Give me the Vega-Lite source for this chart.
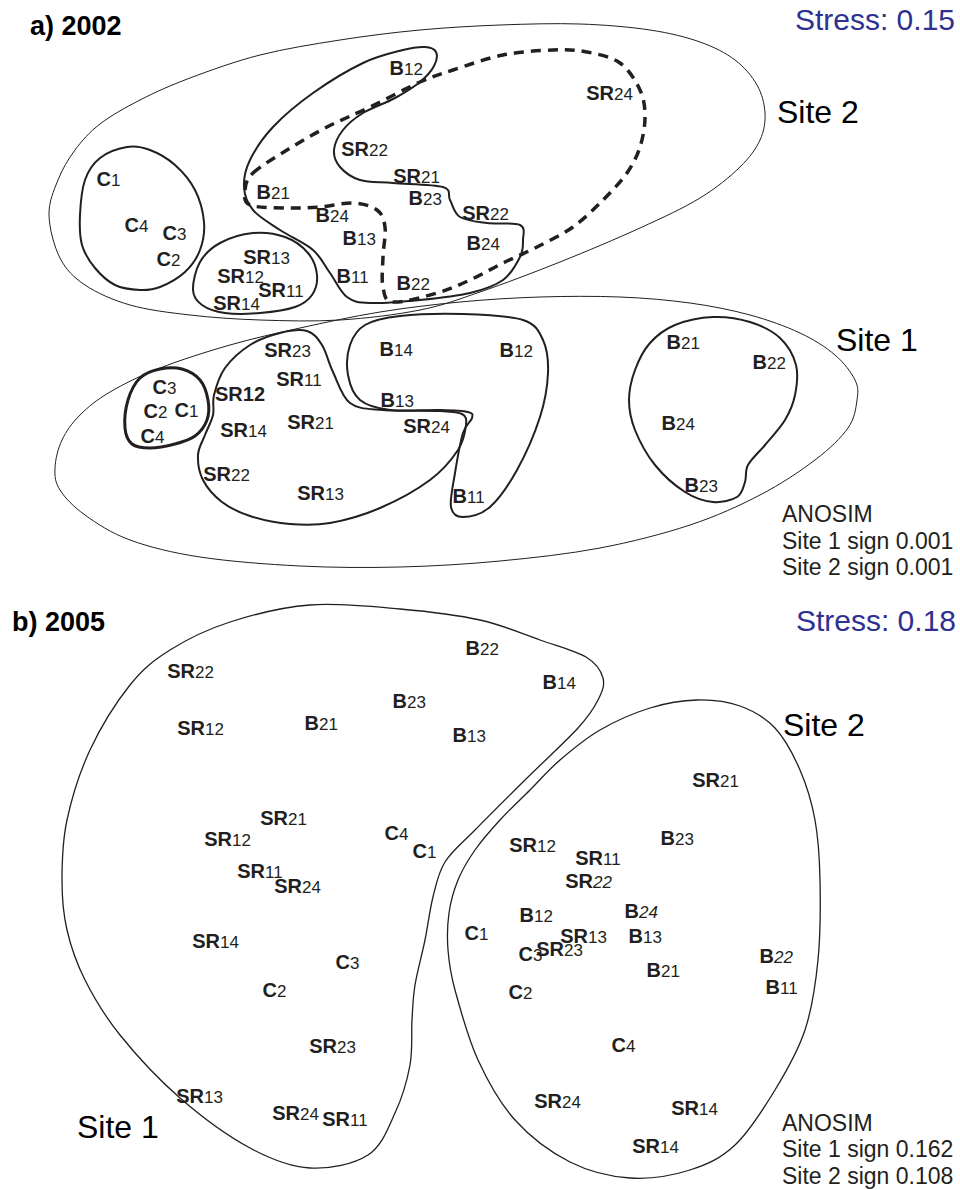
{
"$schema": "https://vega.github.io/schema/vega-lite/v6.json",
"width": 960, "height": 1190,
"autosize": {"type": "fit", "contains": "padding"},
"padding": 0,
"background": "white",
"config": {"view": {"stroke": null}},
"datasets": {
"outlines": [
{"s":"aS2","i":0,"x":49,"y":215},{"s":"aS2","i":1,"x":58,"y":180},{"s":"aS2","i":2,"x":75,"y":150},{"s":"aS2","i":3,"x":100,"y":124},{"s":"aS2","i":4,"x":140,"y":100},{"s":"aS2","i":5,"x":190,"y":78},{"s":"aS2","i":6,"x":260,"y":55},{"s":"aS2","i":7,"x":340,"y":40},{"s":"aS2","i":8,"x":420,"y":30},{"s":"aS2","i":9,"x":500,"y":25},{"s":"aS2","i":10,"x":580,"y":24},{"s":"aS2","i":11,"x":650,"y":30},{"s":"aS2","i":12,"x":700,"y":42},{"s":"aS2","i":13,"x":735,"y":60},{"s":"aS2","i":14,"x":757,"y":85},{"s":"aS2","i":15,"x":765,"y":113},{"s":"aS2","i":16,"x":760,"y":140},{"s":"aS2","i":17,"x":740,"y":167},{"s":"aS2","i":18,"x":700,"y":198},{"s":"aS2","i":19,"x":640,"y":228},{"s":"aS2","i":20,"x":560,"y":262},{"s":"aS2","i":21,"x":480,"y":292},{"s":"aS2","i":22,"x":420,"y":310},{"s":"aS2","i":23,"x":340,"y":320},{"s":"aS2","i":24,"x":260,"y":320},{"s":"aS2","i":25,"x":190,"y":315},{"s":"aS2","i":26,"x":130,"y":305},{"s":"aS2","i":27,"x":85,"y":285},{"s":"aS2","i":28,"x":60,"y":258},
{"s":"aS1","i":0,"x":55,"y":468},{"s":"aS1","i":1,"x":62,"y":440},{"s":"aS1","i":2,"x":80,"y":415},{"s":"aS1","i":3,"x":110,"y":392},{"s":"aS1","i":4,"x":160,"y":368},{"s":"aS1","i":5,"x":230,"y":345},{"s":"aS1","i":6,"x":300,"y":328},{"s":"aS1","i":7,"x":380,"y":312},{"s":"aS1","i":8,"x":460,"y":302},{"s":"aS1","i":9,"x":540,"y":297},{"s":"aS1","i":10,"x":620,"y":297},{"s":"aS1","i":11,"x":690,"y":303},{"s":"aS1","i":12,"x":750,"y":315},{"s":"aS1","i":13,"x":800,"y":333},{"s":"aS1","i":14,"x":835,"y":355},{"s":"aS1","i":15,"x":855,"y":380},{"s":"aS1","i":16,"x":857,"y":400},{"s":"aS1","i":17,"x":848,"y":428},{"s":"aS1","i":18,"x":815,"y":460},{"s":"aS1","i":19,"x":760,"y":495},{"s":"aS1","i":20,"x":690,"y":525},{"s":"aS1","i":21,"x":600,"y":548},{"s":"aS1","i":22,"x":500,"y":561},{"s":"aS1","i":23,"x":400,"y":567},{"s":"aS1","i":24,"x":300,"y":566},{"s":"aS1","i":25,"x":200,"y":557},{"s":"aS1","i":26,"x":130,"y":540},{"s":"aS1","i":27,"x":85,"y":515},{"s":"aS1","i":28,"x":60,"y":490},
{"s":"aC2","i":0,"x":80,"y":215},{"s":"aC2","i":1,"x":85,"y":180},{"s":"aC2","i":2,"x":100,"y":158},{"s":"aC2","i":3,"x":127,"y":147},{"s":"aC2","i":4,"x":150,"y":150},{"s":"aC2","i":5,"x":175,"y":165},{"s":"aC2","i":6,"x":195,"y":190},{"s":"aC2","i":7,"x":204,"y":222},{"s":"aC2","i":8,"x":200,"y":250},{"s":"aC2","i":9,"x":185,"y":272},{"s":"aC2","i":10,"x":160,"y":287},{"s":"aC2","i":11,"x":140,"y":290},{"s":"aC2","i":12,"x":115,"y":285},{"s":"aC2","i":13,"x":95,"y":268},{"s":"aC2","i":14,"x":82,"y":245},
{"s":"aSR2","i":0,"x":193,"y":290},{"s":"aSR2","i":1,"x":200,"y":262},{"s":"aSR2","i":2,"x":220,"y":243},{"s":"aSR2","i":3,"x":253,"y":233},{"s":"aSR2","i":4,"x":285,"y":237},{"s":"aSR2","i":5,"x":308,"y":253},{"s":"aSR2","i":6,"x":317,"y":275},{"s":"aSR2","i":7,"x":312,"y":295},{"s":"aSR2","i":8,"x":295,"y":307},{"s":"aSR2","i":9,"x":260,"y":313},{"s":"aSR2","i":10,"x":225,"y":313},{"s":"aSR2","i":11,"x":202,"y":305},
{"s":"aB2","i":0,"x":403,"y":50},{"s":"aB2","i":1,"x":425,"y":47},{"s":"aB2","i":2,"x":436,"y":52},{"s":"aB2","i":3,"x":434,"y":66},{"s":"aB2","i":4,"x":420,"y":82},{"s":"aB2","i":5,"x":395,"y":98},{"s":"aB2","i":6,"x":363,"y":113},{"s":"aB2","i":7,"x":343,"y":130},{"s":"aB2","i":8,"x":334,"y":150},{"s":"aB2","i":9,"x":340,"y":167},{"s":"aB2","i":10,"x":360,"y":180},{"s":"aB2","i":11,"x":393,"y":183},{"s":"aB2","i":12,"x":443,"y":187},{"s":"aB2","i":13,"x":450,"y":200},{"s":"aB2","i":14,"x":460,"y":217},{"s":"aB2","i":15,"x":487,"y":223},{"s":"aB2","i":16,"x":520,"y":225},{"s":"aB2","i":17,"x":523,"y":240},{"s":"aB2","i":18,"x":520,"y":257},{"s":"aB2","i":19,"x":503,"y":280},{"s":"aB2","i":20,"x":470,"y":293},{"s":"aB2","i":21,"x":420,"y":300},{"s":"aB2","i":22,"x":370,"y":303},{"s":"aB2","i":23,"x":347,"y":297},{"s":"aB2","i":24,"x":330,"y":273},{"s":"aB2","i":25,"x":313,"y":250},{"s":"aB2","i":26,"x":280,"y":230},{"s":"aB2","i":27,"x":253,"y":210},{"s":"aB2","i":28,"x":244,"y":187},{"s":"aB2","i":29,"x":250,"y":160},{"s":"aB2","i":30,"x":273,"y":127},{"s":"aB2","i":31,"x":313,"y":93},{"s":"aB2","i":32,"x":363,"y":63},
{"s":"aD2","i":0,"x":245,"y":190},{"s":"aD2","i":1,"x":253,"y":173},{"s":"aD2","i":2,"x":287,"y":150},{"s":"aD2","i":3,"x":327,"y":127},{"s":"aD2","i":4,"x":370,"y":107},{"s":"aD2","i":5,"x":420,"y":82},{"s":"aD2","i":6,"x":453,"y":70},{"s":"aD2","i":7,"x":503,"y":55},{"s":"aD2","i":8,"x":553,"y":50},{"s":"aD2","i":9,"x":587,"y":52},{"s":"aD2","i":10,"x":620,"y":63},{"s":"aD2","i":11,"x":640,"y":90},{"s":"aD2","i":12,"x":645,"y":117},{"s":"aD2","i":13,"x":640,"y":147},{"s":"aD2","i":14,"x":627,"y":173},{"s":"aD2","i":15,"x":603,"y":200},{"s":"aD2","i":16,"x":573,"y":227},{"s":"aD2","i":17,"x":537,"y":247},{"s":"aD2","i":18,"x":503,"y":263},{"s":"aD2","i":19,"x":470,"y":280},{"s":"aD2","i":20,"x":437,"y":293},{"s":"aD2","i":21,"x":393,"y":302},{"s":"aD2","i":22,"x":383,"y":287},{"s":"aD2","i":23,"x":383,"y":257},{"s":"aD2","i":24,"x":385,"y":227},{"s":"aD2","i":25,"x":377,"y":210},{"s":"aD2","i":26,"x":353,"y":203},{"s":"aD2","i":27,"x":320,"y":207},{"s":"aD2","i":28,"x":287,"y":208},{"s":"aD2","i":29,"x":250,"y":205},
{"s":"aC1","i":0,"x":128,"y":400},{"s":"aC1","i":1,"x":140,"y":378},{"s":"aC1","i":2,"x":160,"y":369},{"s":"aC1","i":3,"x":182,"y":369},{"s":"aC1","i":4,"x":200,"y":380},{"s":"aC1","i":5,"x":208,"y":400},{"s":"aC1","i":6,"x":207,"y":420},{"s":"aC1","i":7,"x":195,"y":436},{"s":"aC1","i":8,"x":175,"y":444},{"s":"aC1","i":9,"x":150,"y":448},{"s":"aC1","i":10,"x":132,"y":444},{"s":"aC1","i":11,"x":125,"y":428},
{"s":"aSR1","i":0,"x":307,"y":331},{"s":"aSR1","i":1,"x":322,"y":345},{"s":"aSR1","i":2,"x":333,"y":372},{"s":"aSR1","i":3,"x":350,"y":403},{"s":"aSR1","i":4,"x":383,"y":410},{"s":"aSR1","i":5,"x":440,"y":411},{"s":"aSR1","i":6,"x":462,"y":414},{"s":"aSR1","i":7,"x":466,"y":425},{"s":"aSR1","i":8,"x":458,"y":450},{"s":"aSR1","i":9,"x":430,"y":480},{"s":"aSR1","i":10,"x":380,"y":508},{"s":"aSR1","i":11,"x":330,"y":523},{"s":"aSR1","i":12,"x":290,"y":524},{"s":"aSR1","i":13,"x":250,"y":516},{"s":"aSR1","i":14,"x":222,"y":502},{"s":"aSR1","i":15,"x":203,"y":480},{"s":"aSR1","i":16,"x":198,"y":455},{"s":"aSR1","i":17,"x":205,"y":435},{"s":"aSR1","i":18,"x":213,"y":415},{"s":"aSR1","i":19,"x":214,"y":395},{"s":"aSR1","i":20,"x":225,"y":368},{"s":"aSR1","i":21,"x":250,"y":345},{"s":"aSR1","i":22,"x":280,"y":333},
{"s":"aB1","i":0,"x":463,"y":314},{"s":"aB1","i":1,"x":523,"y":320},{"s":"aB1","i":2,"x":543,"y":340},{"s":"aB1","i":3,"x":548,"y":373},{"s":"aB1","i":4,"x":540,"y":417},{"s":"aB1","i":5,"x":517,"y":470},{"s":"aB1","i":6,"x":490,"y":507},{"s":"aB1","i":7,"x":463,"y":517},{"s":"aB1","i":8,"x":451,"y":507},{"s":"aB1","i":9,"x":455,"y":473},{"s":"aB1","i":10,"x":463,"y":433},{"s":"aB1","i":11,"x":472,"y":418},{"s":"aB1","i":12,"x":468,"y":412},{"s":"aB1","i":13,"x":440,"y":410},{"s":"aB1","i":14,"x":390,"y":410},{"s":"aB1","i":15,"x":360,"y":400},{"s":"aB1","i":16,"x":348,"y":375},{"s":"aB1","i":17,"x":350,"y":345},{"s":"aB1","i":18,"x":365,"y":325},{"s":"aB1","i":19,"x":400,"y":316},
{"s":"aB21","i":0,"x":713,"y":317},{"s":"aB21","i":1,"x":750,"y":322},{"s":"aB21","i":2,"x":780,"y":338},{"s":"aB21","i":3,"x":796,"y":365},{"s":"aB21","i":4,"x":795,"y":395},{"s":"aB21","i":5,"x":785,"y":420},{"s":"aB21","i":6,"x":765,"y":445},{"s":"aB21","i":7,"x":748,"y":465},{"s":"aB21","i":8,"x":745,"y":482},{"s":"aB21","i":9,"x":737,"y":497},{"s":"aB21","i":10,"x":713,"y":502},{"s":"aB21","i":11,"x":685,"y":492},{"s":"aB21","i":12,"x":655,"y":465},{"s":"aB21","i":13,"x":635,"y":430},{"s":"aB21","i":14,"x":629,"y":400},{"s":"aB21","i":15,"x":635,"y":370},{"s":"aB21","i":16,"x":650,"y":343},{"s":"aB21","i":17,"x":675,"y":325},
{"s":"bS1","i":0,"x":310,"y":605},{"s":"bS1","i":1,"x":400,"y":609},{"s":"bS1","i":2,"x":480,"y":620},{"s":"bS1","i":3,"x":540,"y":640},{"s":"bS1","i":4,"x":586,"y":657},{"s":"bS1","i":5,"x":603,"y":678},{"s":"bS1","i":6,"x":598,"y":700},{"s":"bS1","i":7,"x":578,"y":728},{"s":"bS1","i":8,"x":525,"y":780},{"s":"bS1","i":9,"x":475,"y":830},{"s":"bS1","i":10,"x":445,"y":862},{"s":"bS1","i":11,"x":433,"y":897},{"s":"bS1","i":12,"x":425,"y":940},{"s":"bS1","i":13,"x":415,"y":985},{"s":"bS1","i":14,"x":412,"y":1020},{"s":"bS1","i":15,"x":410,"y":1065},{"s":"bS1","i":16,"x":395,"y":1113},{"s":"bS1","i":17,"x":368,"y":1155},{"s":"bS1","i":18,"x":310,"y":1168},{"s":"bS1","i":19,"x":250,"y":1148},{"s":"bS1","i":20,"x":180,"y":1098},{"s":"bS1","i":21,"x":120,"y":1035},{"s":"bS1","i":22,"x":85,"y":980},{"s":"bS1","i":23,"x":67,"y":930},{"s":"bS1","i":24,"x":62,"y":880},{"s":"bS1","i":25,"x":67,"y":820},{"s":"bS1","i":26,"x":90,"y":750},{"s":"bS1","i":27,"x":130,"y":685},{"s":"bS1","i":28,"x":170,"y":650},{"s":"bS1","i":29,"x":230,"y":622},
{"s":"bS2","i":0,"x":697,"y":700},{"s":"bS2","i":1,"x":740,"y":706},{"s":"bS2","i":2,"x":775,"y":728},{"s":"bS2","i":3,"x":800,"y":770},{"s":"bS2","i":4,"x":815,"y":820},{"s":"bS2","i":5,"x":820,"y":880},{"s":"bS2","i":6,"x":818,"y":960},{"s":"bS2","i":7,"x":805,"y":1030},{"s":"bS2","i":8,"x":775,"y":1090},{"s":"bS2","i":9,"x":735,"y":1145},{"s":"bS2","i":10,"x":690,"y":1170},{"s":"bS2","i":11,"x":630,"y":1178},{"s":"bS2","i":12,"x":570,"y":1162},{"s":"bS2","i":13,"x":515,"y":1120},{"s":"bS2","i":14,"x":478,"y":1060},{"s":"bS2","i":15,"x":455,"y":990},{"s":"bS2","i":16,"x":448,"y":950},{"s":"bS2","i":17,"x":449,"y":913},{"s":"bS2","i":18,"x":458,"y":880},{"s":"bS2","i":19,"x":475,"y":850},{"s":"bS2","i":20,"x":500,"y":820},{"s":"bS2","i":21,"x":530,"y":790},{"s":"bS2","i":22,"x":560,"y":760},{"s":"bS2","i":23,"x":600,"y":730},{"s":"bS2","i":24,"x":650,"y":708}
],
"labels": [
{"p":"B","n":"12","x":404,"y":75},{"p":"SR","n":"24","x":614,"y":100},{"p":"SR","n":"22","x":369,"y":156},{"p":"SR","n":"21","x":421,"y":183},{"p":"B","n":"23","x":423,"y":205},{"p":"SR","n":"22","x":490,"y":220},{"p":"B","n":"21","x":271,"y":199},{"p":"B","n":"24","x":330,"y":222},{"p":"B","n":"13","x":357,"y":245},{"p":"B","n":"24","x":481,"y":250},{"p":"B","n":"11","x":351,"y":283},{"p":"B","n":"22","x":411,"y":290},{"p":"C","n":"1","x":111,"y":186},{"p":"C","n":"4","x":139,"y":232},{"p":"C","n":"3","x":177,"y":240},{"p":"C","n":"2","x":171,"y":266},{"p":"SR","n":"13","x":271,"y":264},{"p":"SR","n":"12","x":245,"y":283},{"p":"SR","n":"11","x":286,"y":297},{"p":"SR","n":"14","x":241,"y":310},
{"p":"SR","n":"23","x":292,"y":357},{"p":"B","n":"14","x":394,"y":356},{"p":"B","n":"12","x":514,"y":357},{"p":"SR","n":"11","x":304,"y":386},{"p":"SR12","n":"","x":265,"y":401},{"p":"C","n":"3","x":167,"y":394},{"p":"C","n":"2","x":158,"y":418},{"p":"C","n":"1","x":189,"y":417},{"p":"C","n":"4","x":155,"y":443},{"p":"SR","n":"14","x":248,"y":437},{"p":"SR","n":"21","x":315,"y":429},{"p":"B","n":"13","x":395,"y":407},{"p":"SR","n":"24","x":431,"y":433},{"p":"SR","n":"22","x":231,"y":481},{"p":"SR","n":"13","x":325,"y":500},{"p":"B","n":"11","x":467,"y":503},{"p":"B","n":"21","x":681,"y":349},{"p":"B","n":"22","x":767,"y":369},{"p":"B","n":"24","x":676,"y":430},{"p":"B","n":"23","x":699,"y":492},
{"p":"SR","n":"22","x":195,"y":678},{"p":"B","n":"22","x":480,"y":655},{"p":"B","n":"14","x":557,"y":689},{"p":"B","n":"23","x":407,"y":708},{"p":"SR","n":"12","x":205,"y":735},{"p":"B","n":"21","x":319,"y":730},{"p":"B","n":"13","x":467,"y":742},{"p":"SR","n":"21","x":288,"y":825},{"p":"SR","n":"12","x":232,"y":846},{"p":"C","n":"4","x":399,"y":840},{"p":"C","n":"1","x":427,"y":858},{"p":"SR","n":"11","x":265,"y":878},{"p":"SR","n":"24","x":302,"y":893},{"p":"SR","n":"14","x":220,"y":948},{"p":"C","n":"3","x":350,"y":969},{"p":"C","n":"2","x":277,"y":997},{"p":"SR","n":"23","x":337,"y":1053},{"p":"SR","n":"13","x":204,"y":1103},{"p":"SR","n":"24","x":300,"y":1120},{"p":"SR","n":"11","x":350,"y":1126},
{"p":"SR","n":"21","x":720,"y":787},{"p":"B","n":"23","x":675,"y":845},{"p":"SR","n":"12","x":537,"y":852},{"p":"SR","n":"11","x":603,"y":865},{"p":"B","n":"12","x":534,"y":922},{"p":"C","n":"1","x":479,"y":940},{"p":"C","n":"3","x":533,"y":961},{"p":"SR","n":"23","x":564,"y":956},{"p":"SR","n":"13","x":588,"y":943},{"p":"B","n":"13","x":643,"y":943},{"p":"B","n":"21","x":661,"y":977},{"p":"C","n":"2","x":523,"y":999},{"p":"B","n":"11","x":780,"y":994},{"p":"C","n":"4","x":626,"y":1052},{"p":"SR","n":"24","x":562,"y":1108},{"p":"SR","n":"14","x":699,"y":1115},{"p":"SR","n":"14","x":660,"y":1153}
],
"italicLabels": [
{"p":"SR","n":"22","x":593,"y":888},{"p":"B","n":"24","x":639,"y":918},{"p":"B","n":"22","x":774,"y":963}
],
"titles": [{"t":"a) 2002","x":30,"y":35},{"t":"b) 2005","x":12,"y":631}],
"stress": [{"t":"Stress: 0.15","x":955,"y":30},{"t":"Stress: 0.18","x":956,"y":631}],
"sites": [{"t":"Site 2","x":777,"y":123},{"t":"Site 1","x":836,"y":351},{"t":"Site 2","x":783,"y":736},{"t":"Site 1","x":77,"y":1138}],
"anosim": [{"t":"ANOSIM","x":782,"y":522},{"t":"Site 1 sign 0.001","x":782,"y":549},{"t":"Site 2 sign 0.001","x":782,"y":575},{"t":"ANOSIM","x":782,"y":1131},{"t":"Site 1 sign 0.162","x":782,"y":1157},{"t":"Site 2 sign 0.108","x":782,"y":1184}]
},
"encoding": {
"x": {"field": "x", "type": "quantitative", "scale": {"domain": [0, 960], "nice": false, "zero": false}, "axis": null},
"y": {"field": "y", "type": "quantitative", "scale": {"domain": [0, 1190], "nice": false, "zero": false, "reverse": true}, "axis": null}
},
"layer": [
{"data": {"name": "outlines"}, "transform": [{"filter": {"field": "s", "oneOf": ["aS2", "aS1"]}}],
 "mark": {"type": "line", "interpolate": "cardinal-closed", "strokeWidth": 1, "color": "#231f20"},
 "encoding": {"detail": {"field": "s"}, "order": {"field": "i", "type": "quantitative"}}},
{"data": {"name": "outlines"}, "transform": [{"filter": {"field": "s", "oneOf": ["aC2", "aSR2", "aB2", "aSR1", "aB1", "aB21"]}}],
 "mark": {"type": "line", "interpolate": "cardinal-closed", "strokeWidth": 2, "color": "#231f20"},
 "encoding": {"detail": {"field": "s"}, "order": {"field": "i", "type": "quantitative"}}},
{"data": {"name": "outlines"}, "transform": [{"filter": {"field": "s", "oneOf": ["aC1"]}}],
 "mark": {"type": "line", "interpolate": "cardinal-closed", "strokeWidth": 3, "color": "#231f20"},
 "encoding": {"detail": {"field": "s"}, "order": {"field": "i", "type": "quantitative"}}},
{"data": {"name": "outlines"}, "transform": [{"filter": {"field": "s", "oneOf": ["aD2"]}}],
 "mark": {"type": "line", "interpolate": "cardinal-closed", "strokeWidth": 3.5, "strokeDash": [10, 7], "color": "#231f20"},
 "encoding": {"detail": {"field": "s"}, "order": {"field": "i", "type": "quantitative"}}},
{"data": {"name": "outlines"}, "transform": [{"filter": {"field": "s", "oneOf": ["bS1", "bS2"]}}],
 "mark": {"type": "line", "interpolate": "cardinal-closed", "strokeWidth": 1.3, "color": "#231f20"},
 "encoding": {"detail": {"field": "s"}, "order": {"field": "i", "type": "quantitative"}}},
{"data": {"name": "labels"},
 "mark": {"type": "text", "align": "right", "baseline": "alphabetic", "font": "Liberation Sans", "fontSize": 20, "fontWeight": "bold", "color": "#231f20"},
 "encoding": {"text": {"field": "p"}}},
{"data": {"name": "labels"},
 "mark": {"type": "text", "align": "left", "baseline": "alphabetic", "font": "Liberation Sans", "fontSize": 17, "color": "#231f20"},
 "encoding": {"text": {"field": "n"}}},
{"data": {"name": "italicLabels"},
 "mark": {"type": "text", "align": "right", "baseline": "alphabetic", "font": "Liberation Sans", "fontSize": 20, "fontWeight": "bold", "color": "#231f20"},
 "encoding": {"text": {"field": "p"}}},
{"data": {"name": "italicLabels"},
 "mark": {"type": "text", "align": "left", "baseline": "alphabetic", "font": "Liberation Sans", "fontSize": 17, "fontStyle": "italic", "color": "#231f20"},
 "encoding": {"text": {"field": "n"}}},
{"data": {"name": "titles"},
 "mark": {"type": "text", "align": "left", "baseline": "alphabetic", "font": "Liberation Sans", "fontSize": 27, "fontWeight": "bold", "color": "#000000"},
 "encoding": {"text": {"field": "t"}}},
{"data": {"name": "stress"},
 "mark": {"type": "text", "align": "right", "baseline": "alphabetic", "font": "Liberation Sans", "fontSize": 30, "color": "#2e3192"},
 "encoding": {"text": {"field": "t"}}},
{"data": {"name": "sites"},
 "mark": {"type": "text", "align": "left", "baseline": "alphabetic", "font": "Liberation Sans", "fontSize": 32, "color": "#000000"},
 "encoding": {"text": {"field": "t"}}},
{"data": {"name": "anosim"},
 "mark": {"type": "text", "align": "left", "baseline": "alphabetic", "font": "Liberation Sans", "fontSize": 23, "color": "#231f20"},
 "encoding": {"text": {"field": "t"}}}
]
}
